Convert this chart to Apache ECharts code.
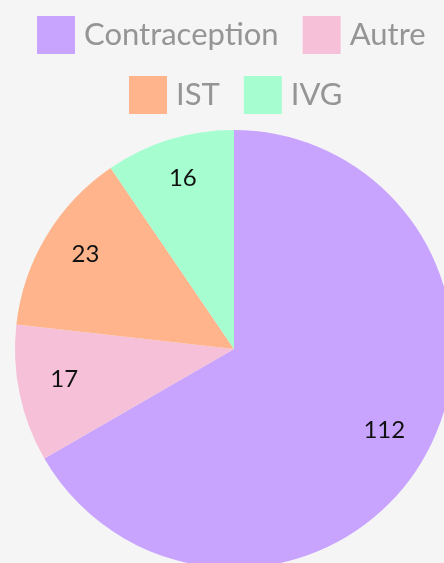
<!DOCTYPE html>
<html>
<head>
<meta charset="utf-8">
<script src="https://cdn.jsdelivr.net/npm/echarts@6/dist/echarts.min.js"></script>
<style>
  html, body { margin: 0; padding: 0; background: #f5f5f5; }
  #chart { width: 444px; height: 563px; }
</style>
</head>
<body>
<div id="chart"></div>
<script>
// données du graphique
const categories = ["Contraception", "Autre", "IST", "IVG"];
const values = [112, 17, 23, 16];
const colors = ["#c8a4ff", "#f5c0d8", "#ffb48c", "#a6fed0"];

const pieData = categories.map((name, i) => ({ name: name, value: values[i] }));

// deux lignes de légende
const legendBase = {
  itemWidth: 38,
  itemHeight: 38,
  itemGap: 24,
  icon: "rect",
  textStyle: {
    color: "#959595",
    fontSize: 31,
    fontFamily: "Lato",
    padding: [0, 0, 0, 4]
  }
};

let chart = echarts.init(document.getElementById("chart"));
chart.setOption({
  backgroundColor: "#f5f5f5",
  color: colors,
  animation: false,
  legend: [
    Object.assign({}, legendBase, { top: 11, left: 32, data: categories.slice(0, 2) }),
    Object.assign({}, legendBase, { top: 71, left: 124, data: categories.slice(2) })
  ],
  series: [
    {
      type: "pie",
      center: [234, 349],
      radius: [0, 219],
      startAngle: 90,
      clockwise: true,
      data: pieData,
      label: { show: false },
      labelLine: { show: false },
      silent: true
    },
    {
      // série transparente pour placer les étiquettes
      type: "pie",
      center: [234, 349],
      radius: [122, 219],
      startAngle: 90,
      clockwise: true,
      data: pieData,
      itemStyle: { color: "rgba(0,0,0,0)" },
      label: {
        show: true,
        position: "inside",
        formatter: "{c}",
        color: "#111111",
        fontSize: 24,
        fontFamily: "Lato",
        offset: [0, -5]
      },
      labelLine: { show: false },
      silent: true
    }
  ]
});
</script>
</body>
</html>
